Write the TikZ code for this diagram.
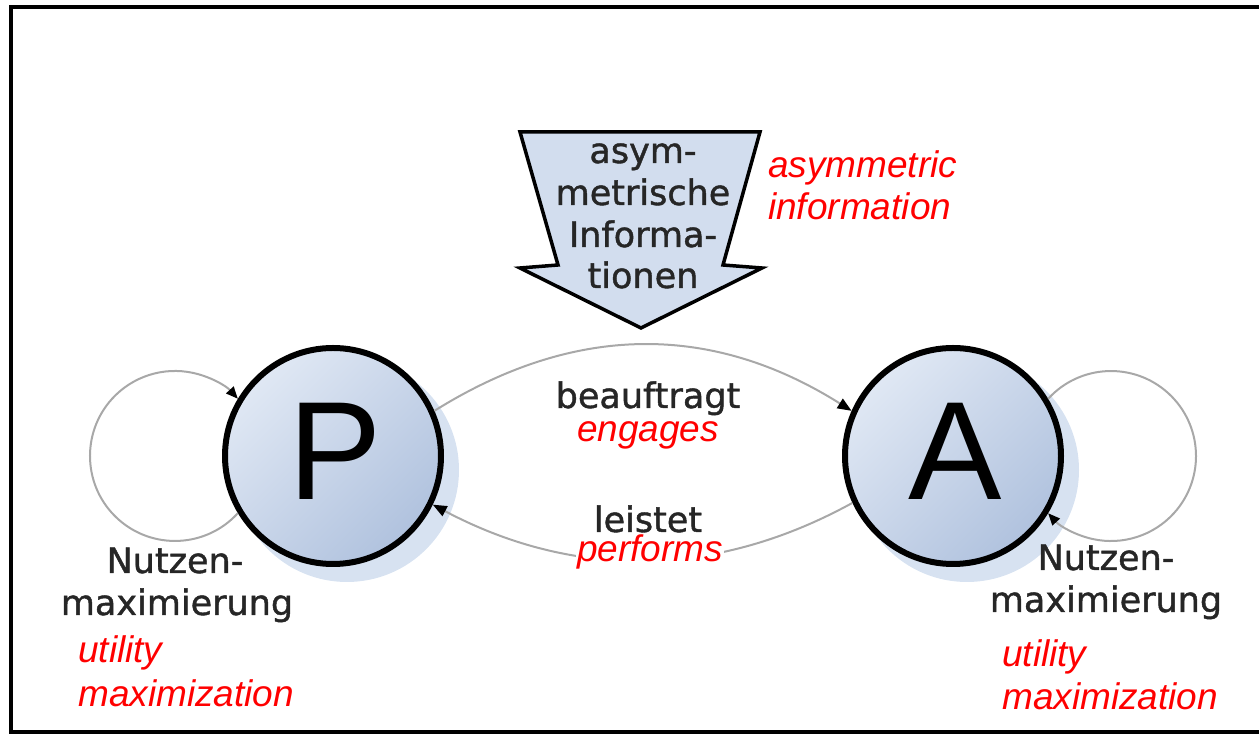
\documentclass[tikz,border=0pt]{standalone}
\usepackage{fontspec}
\setmainfont{DejaVu Sans}
\newfontfamily\defont{DejaVu Sans}[FakeBold=1.2]
\newfontfamily\arialfont{Liberation Sans}
\usetikzlibrary{arrows.meta}
\definecolor{txtgray}{HTML}{262626}
\definecolor{linegray}{HTML}{A8A8A8}
\definecolor{shadowblue}{HTML}{D7E2F1}
\definecolor{nodelight}{HTML}{E0E8F4}
\definecolor{nodedark}{HTML}{B0C2DE}
\definecolor{arrowfill}{HTML}{D2DDEE}
\definecolor{engred}{HTML}{FF0000}
\begin{document}
\begin{tikzpicture}[x=1pt,y=1pt,
  agent/.style={circle, draw=black, line width=6pt, minimum size=216pt, inner sep=0pt,
    top color=nodelight, bottom color=nodedark, shading angle=45},
  letter/.style={font=\arialfont\fontsize{140}{140}\selectfont, inner sep=0pt, anchor=base},
  de/.style={font=\defont\fontsize{35}{42}\selectfont, text=txtgray, inner sep=0pt, anchor=base},
  en/.style={font=\arialfont\itshape\fontsize{37}{44}\selectfont, text=engred, inner sep=0pt},
  link/.style={draw=linegray, line width=2pt, -{Triangle[length=14pt,width=11pt,color=black]}},
  loopline/.style={draw=linegray, line width=2pt, -{Triangle[length=12pt,width=10pt,color=black]}}
]
\useasboundingbox (0,0) rectangle (1259,735);
% frame
\draw[line width=4pt] (1265,727.5) -- (11,727.5) -- (11,2.5) -- (1265,2.5);
% shadows
\fill[shadowblue] (347,265) circle[radius=112];
\fill[shadowblue] (967,265) circle[radius=112];
% agents
\node[agent] (P) at (333,279) {};
\node[agent] (A) at (953,279) {};
\node[letter] (Pl) at (335,235) {P};
\node[letter] (Al) at (955,235) {A};
% self loops
\draw[loopline] (P.-149) arc[start angle=-42.3, end angle=-317.7, radius=85];
\draw[loopline] (A.31) arc[start angle=137.7, end angle=-137.7, radius=85];
% links
\draw[link] (P.24) .. controls (575,412) and (712,412) .. (A.156);
\draw[link] (A.-155) .. controls (714,156) and (573,156) .. (P.-26);
% big arrow
\draw[fill=arrowfill, line width=3.5pt, line join=miter]
  (520,603) -- (760,603) -- (723,470) -- (762,467) -- (641,407) -- (520,467) -- (558,470) -- cycle;
\node[de] (t1) at (643,572) {asym-};
\node[de] (t2) at (643,530) {metrische};
\node[de] (t3) at (643,488) {Informa-};
\node[de] (t4) at (643,447) {tionen};
\node[en, anchor=base west] (e1) at (768,557) {asymmetric};
\node[en, anchor=base west] (e2) at (768,515) {information};
% link labels
\node[de] (lb1) at (648,327) {beauftragt};
\node[en, anchor=base] (le1) at (648,293) {engages};
\node[de] (lb2) at (648,203) {leistet};
\node[en, anchor=base, fill=white, inner sep=1pt] (le2) at (650,173) {performs};
% loop labels
\node[de] (n1) at (175,162) {Nutzen-};
\node[de] (n2) at (177,120) {maximierung};
\node[en, anchor=base west] (u1) at (78,72) {utility};
\node[en, anchor=base west] (u2) at (78,28) {maximization};
\node[de] (n3) at (1106,165) {Nutzen-};
\node[de] (n4) at (1106,123) {maximierung};
\node[en, anchor=base west] (u3) at (1002,68) {utility};
\node[en, anchor=base west] (u4) at (1002,25) {maximization};
\end{tikzpicture}
\end{document}
